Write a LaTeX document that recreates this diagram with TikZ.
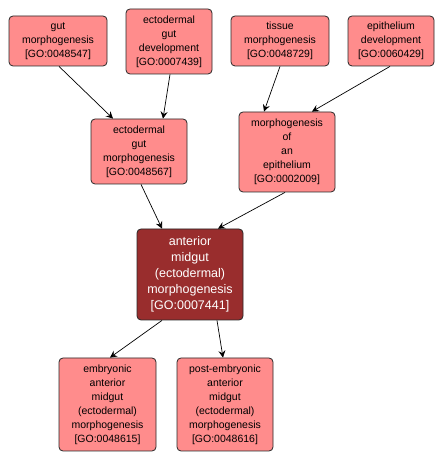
\documentclass[tikz,border=0pt]{standalone}
\usepackage{fontspec}
\setmainfont{Liberation Sans}
\usetikzlibrary{arrows.meta}
\definecolor{lightfill}{RGB}{255,140,140}
\definecolor{darkfill}{RGB}{153,45,45}
\definecolor{edgegray}{RGB}{40,40,40}
\begin{document}
\begin{tikzpicture}[x=1pt,y=1pt,
  gobox/.style={draw=edgegray, line width=0.8pt, rounded corners=4pt, fill=lightfill,
    align=center, inner sep=0pt, font=\fontsize{10.5}{14}\selectfont, text=black},
  mainbox/.style={gobox, fill=darkfill, text=white, font=\fontsize{12.5}{16}\selectfont},
  conn/.style={draw=black, line width=0.7pt, -{Stealth[length=7pt,width=7pt,inset=2.5pt]}}]
\useasboundingbox (0,0) rectangle (444,463);
\fill[white] (0,0) rectangle (444,463);
\node[gobox, minimum width=98pt, minimum height=50pt] (gut) at (58,422) {gut\\morphogenesis\\{[GO:0048547]}};
\node[gobox, minimum width=86pt, minimum height=65pt] (ectdev) at (169,421.5) {ectodermal\\gut\\development\\{[GO:0007439]}};
\node[gobox, minimum width=96pt, minimum height=65pt] (ectgm) at (139,311.5) {ectodermal\\gut\\morphogenesis\\{[GO:0048567]}};
\node[gobox, minimum width=98pt, minimum height=50pt] (tissue) at (280,422) {tissue\\morphogenesis\\{[GO:0048729]}};
\node[gobox, minimum width=86pt, minimum height=50pt] (epdev) at (391,422) {epithelium\\development\\{[GO:0060429]}};
\node[gobox, minimum width=96pt, minimum height=80pt] (morphep) at (287,311) {morphogenesis\\of\\an\\epithelium\\{[GO:0002009]}};
\node[mainbox, minimum width=106pt, minimum height=91pt] (ant) at (190,188.5) {anterior\\midgut\\(ectodermal)\\morphogenesis\\{[GO:0007441]}};
\node[gobox, minimum width=97pt, minimum height=93pt] (emb) at (107.5,58.5) {embryonic\\anterior\\midgut\\(ectodermal)\\morphogenesis\\{[GO:0048615]}};
\node[gobox, minimum width=96pt, minimum height=93pt] (post) at (225,58.5) {post-embryonic\\anterior\\midgut\\(ectodermal)\\morphogenesis\\{[GO:0048616]}};
\draw[conn] ([xshift=1pt]gut.south) -- ([xshift=-26pt]ectgm.north);
\draw[conn] ([xshift=1pt]ectdev.south) -- ([xshift=24pt]ectgm.north);
\draw[conn] ([xshift=2pt]ectgm.south) -- ([xshift=-28pt]ant.north);
\draw[conn] (tissue.south) -- ([xshift=-23pt]morphep.north);
\draw[conn] ([xshift=-1pt]epdev.south) -- ([xshift=25pt]morphep.north);
\draw[conn] ([xshift=-2pt]morphep.south) -- ([xshift=28pt]ant.north);
\draw[conn] ([xshift=-28pt]ant.south) -- ([xshift=2.5pt]emb.north);
\draw[conn] ([xshift=27pt]ant.south) -- ([xshift=-2pt]post.north);
\end{tikzpicture}
\end{document}
